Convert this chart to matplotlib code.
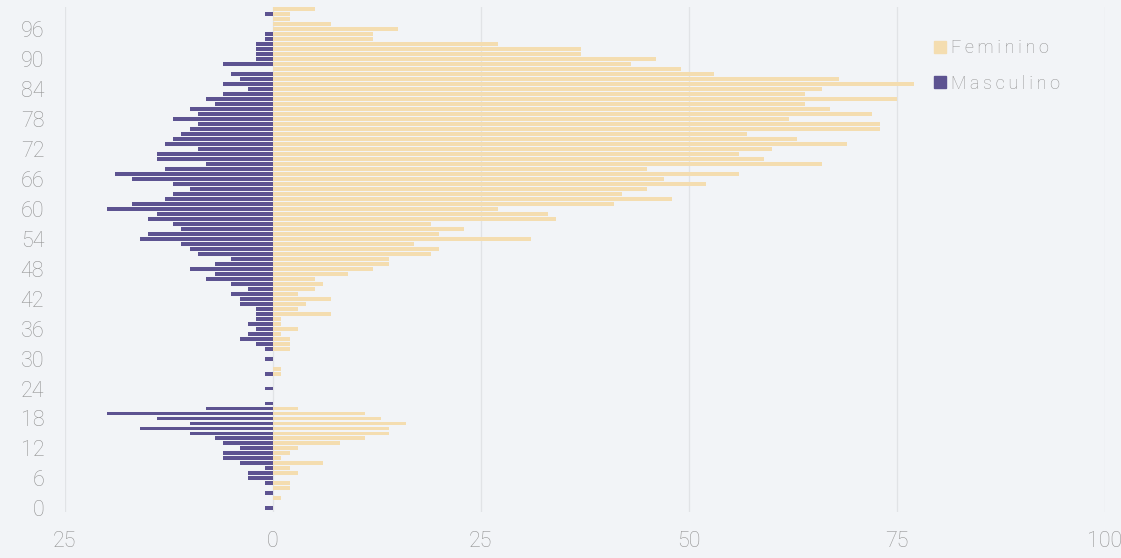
import matplotlib.pyplot as plt
import matplotlib.patches as mpatches
import numpy as np

# ages 0..100
ages = np.arange(0, 101)

masculino = [1, 0, 0, 1, 0, 1, 3, 3, 1, 4,
             6, 6, 4, 6, 7, 10, 16, 10, 14, 20,
             8, 1, 0, 0, 1, 0, 0, 1, 0, 0,
             1, 0, 1, 2, 4, 3, 2, 3, 2, 2,
             2, 4, 4, 5, 3, 5, 8, 7, 10, 7,
             5, 9, 10, 11, 16, 15, 11, 12, 15, 14,
             20, 17, 13, 12, 10, 12, 17, 19, 13, 8,
             14, 14, 9, 13, 12, 11, 10, 9, 12, 9,
             10, 7, 8, 6, 3, 6, 4, 5, 0, 6,
             2, 2, 2, 2, 1, 1, 0, 0, 0, 1,
             0]

feminino = [0, 0, 1, 0, 2, 2, 0, 3, 2, 6,
            1, 2, 3, 8, 11, 14, 14, 16, 13, 11,
            3, 0, 0, 0, 0, 0, 0, 1, 1, 0,
            0, 0, 2, 2, 2, 1, 3, 1, 1, 7,
            3, 4, 7, 3, 5, 6, 5, 9, 12, 14,
            14, 19, 20, 17, 31, 20, 23, 19, 34, 33,
            27, 41, 48, 42, 45, 52, 47, 56, 45, 66,
            59, 56, 60, 69, 63, 57, 73, 73, 62, 72,
            67, 64, 75, 64, 66, 77, 68, 53, 49, 43,
            46, 37, 37, 27, 12, 12, 15, 7, 2, 2,
            5]

x_ticks = [-25, 0, 25, 50, 75, 100]
y_ticks = list(range(0, 97, 6))

fem_color = "#f4ddb0"
masc_color = "#5d5391"
bg = "#f2f4f7"
txt = "#939393"
font = ["Roboto", "DejaVu Sans"]


def spaced(s):
    # the legend text in the source is letter-spaced
    return "\u2009".join(s)


fig = plt.figure(figsize=(11.21, 5.58), dpi=100, facecolor=bg)
ax = fig.add_axes([65 / 1121, 1 - 512 / 558, 1040 / 1121, 505 / 558])
ax.set_facecolor(bg)

ax.barh(ages, feminino, height=0.78, color=fem_color, zorder=2)
ax.barh(ages, -np.array(masculino), height=0.78, color=masc_color, zorder=2)

ax.set_xlim(-25, 100)
ax.set_ylim(-0.74, 100.46)
ax.set_xticks(x_ticks)
ax.set_xticklabels([str(abs(v)) for v in x_ticks])
ax.set_yticks(y_ticks)
ax.tick_params(length=0, labelsize=15.5, labelcolor=txt)
ax.tick_params(axis="x", pad=14)
ax.tick_params(axis="y", pad=15)
for lab in ax.get_xticklabels() + ax.get_yticklabels():
    lab.set_fontfamily(font)
    lab.set_fontweight("light")

ax.grid(axis="x", color="#e1e3e6", linewidth=0.9, zorder=0)
for s in ax.spines.values():
    s.set_visible(False)

handles = [mpatches.Patch(color=fem_color, label=spaced("Feminino")),
           mpatches.Patch(color=masc_color, label=spaced("Masculino"))]
leg = ax.legend(handles=handles, loc="upper left", bbox_to_anchor=(0.82, 0.968),
                frameon=False, handlelength=0.65, handleheight=0.65, handletextpad=0.3,
                labelspacing=0.95, prop={"family": font, "weight": "light", "size": 13})
for t in leg.get_texts():
    t.set_color(txt)

fig.savefig("out.png", dpi=100, facecolor=bg)
